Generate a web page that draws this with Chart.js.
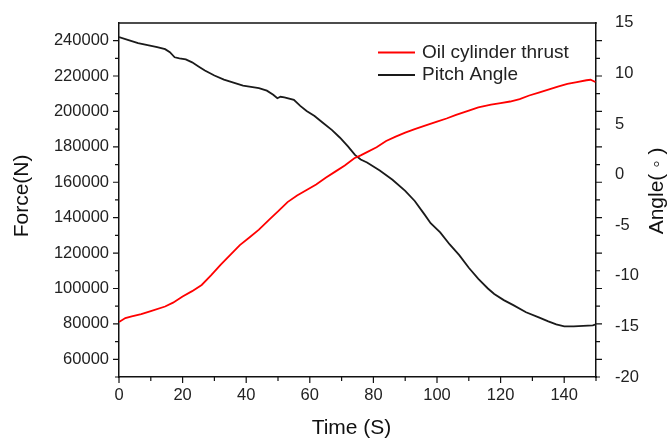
<!DOCTYPE html>
<html>
<head>
<meta charset="utf-8">
<script src="https://cdn.jsdelivr.net/npm/chart.js@4/dist/chart.umd.min.js"></script>
<style>
  html, body { margin: 0; padding: 0; background: #fff; }
  #wrap { width: 672px; height: 443px; }
</style>
</head>
<body>
<div id="wrap"><canvas id="chart" width="672" height="443"></canvas></div>
<script>
// Oil cylinder thrust (N) vs time (s), left axis
const thrustTime = [0, 2, 4, 7, 10, 14.5, 17, 20, 23, 26, 29, 32, 35, 38, 41, 44, 47, 50, 53, 56, 59, 62, 65, 68, 71, 74, 76, 78, 81, 84, 87, 90, 93, 96, 100, 103, 106, 110, 113, 117, 120, 123, 126, 129, 132, 135, 138, 141, 144, 147, 148.3, 149.8];
const thrustForce = [81000, 83300, 84300, 85500, 87200, 89800, 92000, 95500, 98500, 102000, 107500, 113500, 119000, 124500, 128800, 133200, 138500, 143500, 148800, 152500, 155600, 158700, 162500, 166000, 169500, 173600, 175200, 177000, 179800, 183300, 185800, 188000, 190000, 191800, 194200, 196000, 198000, 200500, 202300, 203800, 204700, 205600, 207000, 209000, 210600, 212300, 214000, 215500, 216600, 217600, 217900, 216600];

// Pitch angle (deg) vs time (s), right axis
const pitchTime = [0, 3, 6, 9, 12, 14.5, 16, 17.5, 19, 21, 23, 25, 27, 30, 33, 36, 39, 42, 44, 46.5, 48.5, 49.8, 50.8, 52, 55, 57, 59, 61.5, 64, 67, 69.5, 72, 74.2, 76, 78, 82, 86, 90, 93, 96, 98, 101, 104, 107, 110, 113, 116, 118, 121, 124, 128, 132, 135, 137.5, 140, 143, 146, 149, 150];
const pitchAngle = [13.6, 13.3, 13.0, 12.8, 12.6, 12.4, 12.1, 11.6, 11.5, 11.4, 11.1, 10.7, 10.3, 9.8, 9.4, 9.1, 8.8, 8.65, 8.55, 8.3, 7.9, 7.55, 7.7, 7.65, 7.4, 6.8, 6.3, 5.8, 5.15, 4.4, 3.65, 2.8, 1.95, 1.5, 1.2, 0.4, -0.5, -1.6, -2.6, -3.9, -4.8, -5.7, -6.9, -7.95, -9.2, -10.3, -11.25, -11.8, -12.4, -12.9, -13.6, -14.1, -14.5, -14.8, -15.0, -15.0, -14.95, -14.9, -14.8];

const seriesLabels = ['Oil cylinder thrust', 'Pitch Angle'];
const seriesColors = ['#ff0000', '#1a1a1a'];

const xTitle = 'Time (S)';
const leftTitle = 'Force(N)';
const rightTitle = 'Angle( \u25E6 )';

const FONT = '"Liberation Sans", Arial, Helvetica, sans-serif';
Chart.defaults.font.family = FONT;
Chart.defaults.color = '#222';
Chart.defaults.animation = false;

function pts(xs, ys) {
  return xs.map((x, i) => ({ x, y: ys[i] }));
}

// top border, outward tick marks (minor + major), legend and axis titles
const decor = {
  id: 'decor',
  afterDraw(chart) {
    const { ctx, chartArea: a, scales } = chart;
    ctx.save();
    ctx.strokeStyle = '#111';
    ctx.lineWidth = 1.5;
    ctx.beginPath();
    ctx.moveTo(a.left - 0.75, a.top);
    ctx.lineTo(a.right + 0.75, a.top);
    ctx.stroke();

    ctx.lineWidth = 1.2;
    ctx.beginPath();
    scales.x.ticks.forEach((t) => {
      const px = scales.x.getPixelForValue(t.value);
      const len = t.value % 20 === 0 ? 6 : 4;
      ctx.moveTo(px, a.bottom);
      ctx.lineTo(px, a.bottom + len);
    });
    scales.y.ticks.forEach((t) => {
      if (t.value >= 250000) return;
      const py = scales.y.getPixelForValue(t.value);
      const len = t.value % 20000 === 0 ? 6 : 4;
      ctx.moveTo(a.left - len, py);
      ctx.lineTo(a.left, py);
      ctx.moveTo(a.right, py);
      ctx.lineTo(a.right + len, py);
    });
    ctx.stroke();

    // legend
    ctx.font = '19px ' + FONT;
    ctx.textBaseline = 'middle';
    ctx.textAlign = 'left';
    chart.data.datasets.forEach((ds, i) => {
      const y = a.top + 29.5 + i * 22.7;
      ctx.strokeStyle = ds.borderColor;
      ctx.lineWidth = 2;
      ctx.beginPath();
      ctx.moveTo(a.right - 218, y);
      ctx.lineTo(a.right - 181, y);
      ctx.stroke();
      ctx.fillStyle = '#222';
      ctx.fillText(ds.label, a.right - 174, y);
    });

    ctx.font = '21px ' + FONT;
    ctx.fillStyle = '#111';
    ctx.textAlign = 'center';

    // x title, a little left of the plot centre as in the source
    ctx.fillText(xTitle, (a.left + a.right) / 2 - 6, a.bottom + 51);

    // left title
    ctx.save();
    ctx.translate(22, (a.top + a.bottom) / 2 - 4);
    ctx.rotate(-Math.PI / 2);
    ctx.fillText(leftTitle, 0, 0);
    ctx.restore();

    // right axis title, reading bottom to top
    ctx.translate(a.right + 61, (a.top + a.bottom) / 2 - 9);
    ctx.rotate(-Math.PI / 2);
    ctx.fillText(rightTitle, 0, 0);
    ctx.restore();
  }
};

new Chart(document.getElementById('chart'), {
  type: 'line',
  data: {
    datasets: [
      {
        label: seriesLabels[0],
        data: pts(thrustTime, thrustForce),
        yAxisID: 'y',
        borderColor: seriesColors[0],
        borderWidth: 1.8,
        pointRadius: 0,
        tension: 0
      },
      {
        label: seriesLabels[1],
        data: pts(pitchTime, pitchAngle),
        yAxisID: 'y1',
        borderColor: seriesColors[1],
        borderWidth: 1.8,
        pointRadius: 0,
        tension: 0
      }
    ]
  },
  options: {
    responsive: false,
    layout: { padding: { top: 13, left: 0, right: 0, bottom: 0 } },
    plugins: { legend: { display: false }, tooltip: { enabled: false } },
    scales: {
      x: {
        type: 'linear',
        min: 0,
        max: 150,
        afterFit: (s) => { s.height = 66; },
        border: { display: true, color: '#111', width: 1.5 },
        grid: { drawOnChartArea: false, drawTicks: true, tickLength: 6, tickColor: 'rgba(0,0,0,0)' },
        ticks: {
          stepSize: 10,
          includeBounds: false,
          autoSkip: false,
          maxRotation: 0,
          padding: 3,
          font: { size: 16.5 },
          callback: (v) => (v % 20 === 0 && v < 150 ? String(v) : '')
        },
        title: { display: false }
      },
      y: {
        type: 'linear',
        position: 'left',
        min: 50000,
        max: 250000,
        afterFit: (s) => { s.width = 119; },
        border: { display: true, color: '#111', width: 1.5 },
        grid: { drawOnChartArea: false, drawTicks: true, tickLength: 6, tickColor: 'rgba(0,0,0,0)' },
        ticks: {
          stepSize: 10000,
          autoSkip: false,
          padding: 4,
          font: { size: 16.5 },
          callback: (v) => (v % 20000 === 0 && v > 50000 && v < 250000 ? String(v) : '')
        },
        title: { display: false }
      },
      y1: {
        type: 'linear',
        position: 'right',
        min: -20,
        max: 15,
        afterFit: (s) => { s.width = 76; },
        border: { display: true, color: '#111', width: 1.5 },
        grid: { drawOnChartArea: false, drawTicks: true, tickLength: 6, tickColor: 'rgba(0,0,0,0)' },
        ticks: {
          stepSize: 5,
          autoSkip: false,
          padding: 13,
          font: { size: 16.5 }
        },
        title: { display: false }
      }
    }
  },
  plugins: [decor]
});
</script>
</body>
</html>
